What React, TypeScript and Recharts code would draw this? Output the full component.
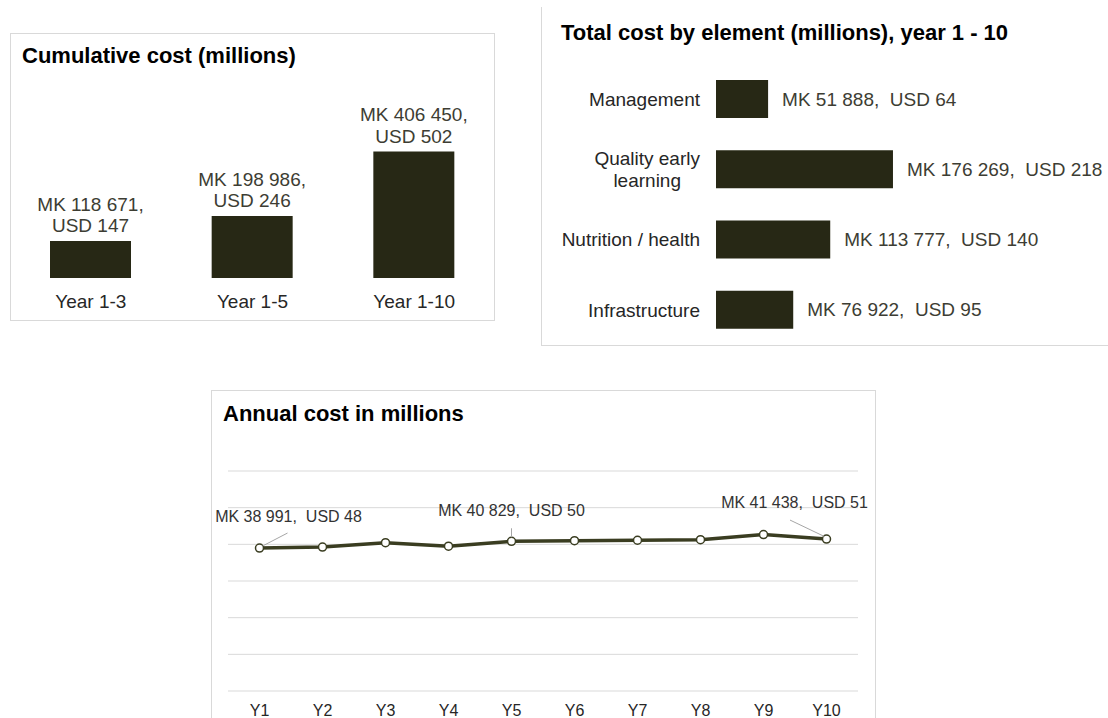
import React from 'react'
import { BarChart, Bar, XAxis, YAxis, LabelList, LineChart, Line, CartesianGrid } from 'recharts'

const FONT = '"Liberation Sans", Arial, sans-serif'
const BAR = '#272815'
const LINE = '#3a3d21'
const LABEL = '#3d3d33'
const AXIS = '#262626'
const BORDER = '#d9d9d9'

// cumulative cost
const cumCategories = ['Year 1-3', 'Year 1-5', 'Year 1-10']
const cumMK = [118671, 198986, 406450]
const cumUSD = [147, 246, 502]

// cost by element, year 1 - 10
const elemCategories = ['Management', 'Quality early\nlearning', 'Nutrition / health', 'Infrastructure']
const elemMK = [51888, 176269, 113777, 76922]
const elemUSD = [64, 218, 140, 95]

// annual cost
const years = ['Y1', 'Y2', 'Y3', 'Y4', 'Y5', 'Y6', 'Y7', 'Y8', 'Y9', 'Y10']
const annualMK = [38991, 39240, 40440, 39486, 40829, 41010, 41110, 41256, 42650, 41438]
const annualUSD = [48, 48, 50, 49, 50, 51, 51, 51, 53, 51]
const annualLabelled = [0, 4, 9]
const annualTicks = [0, 10000, 20000, 30000, 40000, 50000, 60000]

const fmt = (n: number) => String(n).replace(/\B(?=(\d{3})+(?!\d))/g, ' ')

const cumData = cumCategories.map((name, i) => ({ name, mk: cumMK[i], usd: cumUSD[i] }))
const elemData = elemCategories.map((name, i) => ({ name, mk: elemMK[i], usd: elemUSD[i] }))
const annualData = years.map((name, i) => ({ name, mk: annualMK[i], usd: annualUSD[i] }))

let ctx: CanvasRenderingContext2D | null = null
function textWidth(s: string, font: string) {
  if (!ctx) ctx = document.createElement('canvas').getContext('2d')
  if (!ctx) return s.length * 9
  ctx.font = font
  return ctx.measureText(s).width
}

function box(p: any) {
  const vb = p.viewBox || {}
  return {
    x: vb.x ?? p.x ?? 0,
    y: vb.y ?? p.y ?? 0,
    width: vb.width ?? p.width ?? 0,
    height: vb.height ?? p.height ?? 0,
  }
}

function CumLabel(props: any) {
  const { x, y, width } = box(props)
  const i = props.index
  const cx = x + width / 2
  return (
    <text textAnchor="middle" fontSize={19} fill={LABEL} fontFamily={FONT}>
      <tspan x={cx} y={y - 9 - 21.5}>{`MK ${fmt(cumMK[i])},`}</tspan>
      <tspan x={cx} y={y - 9}>{`USD ${cumUSD[i]}`}</tspan>
    </text>
  )
}

function ElemLabel(props: any) {
  const { x, y, width, height } = box(props)
  const i = props.index
  return (
    <text x={x + width + 14} y={y + height / 2} dy="0.355em" fontSize={19} fill={LABEL}
      fontFamily={FONT} style={{ whiteSpace: 'pre' }}>
      {`MK ${fmt(elemMK[i])},  USD ${elemUSD[i]}`}
    </text>
  )
}

function ElemTick(props: any) {
  const { x, y, payload } = props
  const lines = String(payload.value).split('\n')
  if (lines.length === 1) {
    return <text x={x} y={y} dy="0.355em" textAnchor="end" fontSize={19} fill={AXIS} fontFamily={FONT}>{lines[0]}</text>
  }
  const w = Math.max(...lines.map(l => textWidth(l, `19px ${FONT}`)))
  const cx = x - w / 2
  const lh = 22
  return (
    <text textAnchor="middle" fontSize={19} fill={AXIS} fontFamily={FONT}>
      {lines.map((l, k) => (
        <tspan key={k} x={cx} y={y + (k - (lines.length - 1) / 2) * lh} dy="0.355em">{l}</tspan>
      ))}
    </text>
  )
}

function AnnualLabel(props: any) {
  const { x, y } = box(props)
  const i = props.index
  if (!annualLabelled.includes(i)) return null
  const first = i === 0
  const last = i === years.length - 1
  // excel style: edge labels pushed inward, with a leader line
  let tx = x, ty = y - 30.5, l = [x, y - 13, x, y - 4]
  if (first) { tx = x + 29; ty = y - 31.5; l = [x + 28, y - 15, x + 3, y - 2] }
  if (last) { tx = x - 32; ty = y - 36.5; l = [x - 36.5, y - 19, x - 2, y - 2.5] }
  return (
    <g>
      <line x1={l[0]} y1={l[1]} x2={l[2]} y2={l[3]} stroke="#a6a6a6" strokeWidth={1} />
      <text x={tx} y={ty} dy="0.355em" textAnchor="middle" fontSize={16} fill="#333333"
        fontFamily={FONT} style={{ whiteSpace: 'pre' }}>
        {`MK ${fmt(annualMK[i])},  USD ${annualUSD[i]}`}
      </text>
    </g>
  )
}

const titleStyle: React.CSSProperties = {
  position: 'absolute', fontFamily: FONT, fontWeight: 'bold', fontSize: 22,
  lineHeight: '22px', color: '#000', whiteSpace: 'nowrap',
}

export default function App() {
  return (
    <div style={{ position: 'absolute', left: 0, top: 0, width: 1108, height: 718, overflow: 'hidden', background: '#fff', fontFamily: FONT }}>
      {/* panel borders */}
      <div style={{ position: 'absolute', left: 10, top: 33, width: 485, height: 288, border: `1px solid ${BORDER}`, boxSizing: 'border-box' }} />
      <div style={{ position: 'absolute', left: 541, top: 7, width: 600, height: 339, borderLeft: `1px solid ${BORDER}`, borderBottom: `1px solid ${BORDER}`, boxSizing: 'border-box' }} />
      <div style={{ position: 'absolute', left: 211, top: 390, width: 665, height: 340, border: `1px solid ${BORDER}`, boxSizing: 'border-box' }} />

      <div style={{ ...titleStyle, left: 22, top: 45 }}>Cumulative cost (millions)</div>
      <div style={{ ...titleStyle, left: 561, top: 22 }}>Total cost by element (millions), year 1 - 10</div>
      <div style={{ ...titleStyle, left: 223, top: 403 }}>Annual cost in millions</div>

      <div style={{ position: 'absolute', left: 10, top: 33 }}>
        <BarChart width={485} height={288} data={cumData} margin={{ top: 105, right: 0, left: 0, bottom: 0 }}>
          <XAxis dataKey="name" axisLine={false} tickLine={false} height={43} tickMargin={11}
            tick={{ fontSize: 19, fill: AXIS, fontFamily: FONT }} interval={0} />
          <YAxis hide domain={[0, 450000]} />
          <Bar dataKey="mk" fill={BAR} barSize={81} isAnimationActive={false}>
            <LabelList dataKey="mk" content={CumLabel} />
          </Bar>
        </BarChart>
      </div>

      <div style={{ position: 'absolute', left: 541, top: 0 }}>
        <BarChart layout="vertical" width={567} height={345} data={elemData} margin={{ top: 64, right: 141, left: 0, bottom: 0 }}>
          <XAxis type="number" hide domain={[0, 250000]} />
          <YAxis type="category" dataKey="name" width={175} axisLine={false} tickLine={false}
            tickMargin={10} tick={ElemTick} interval={0} />
          <Bar dataKey="mk" fill={BAR} barSize={38} isAnimationActive={false}>
            <LabelList dataKey="mk" content={ElemLabel} />
          </Bar>
        </BarChart>
      </div>

      <div style={{ position: 'absolute', left: 211, top: 390 }}>
        <LineChart width={664} height={328} data={annualData} margin={{ top: 81, right: 17, left: 17, bottom: 0 }}>
          <CartesianGrid vertical={false} stroke={BORDER} />
          <XAxis dataKey="name" axisLine={false} tickLine={false} height={27} tickMargin={8}
            padding={{ left: 31.5, right: 31.5 }}
            tick={{ fontSize: 16, fill: AXIS, fontFamily: FONT }} interval={0} />
          <YAxis hide domain={[0, 60000]} ticks={annualTicks} />
          <Line type="linear" dataKey="mk" stroke={LINE} strokeWidth={3.5}
            dot={{ r: 4, fill: '#fff', stroke: LINE, strokeWidth: 1.5 }}
            isAnimationActive={false}>
            <LabelList dataKey="mk" content={AnnualLabel} />
          </Line>
        </LineChart>
      </div>
    </div>
  )
}
